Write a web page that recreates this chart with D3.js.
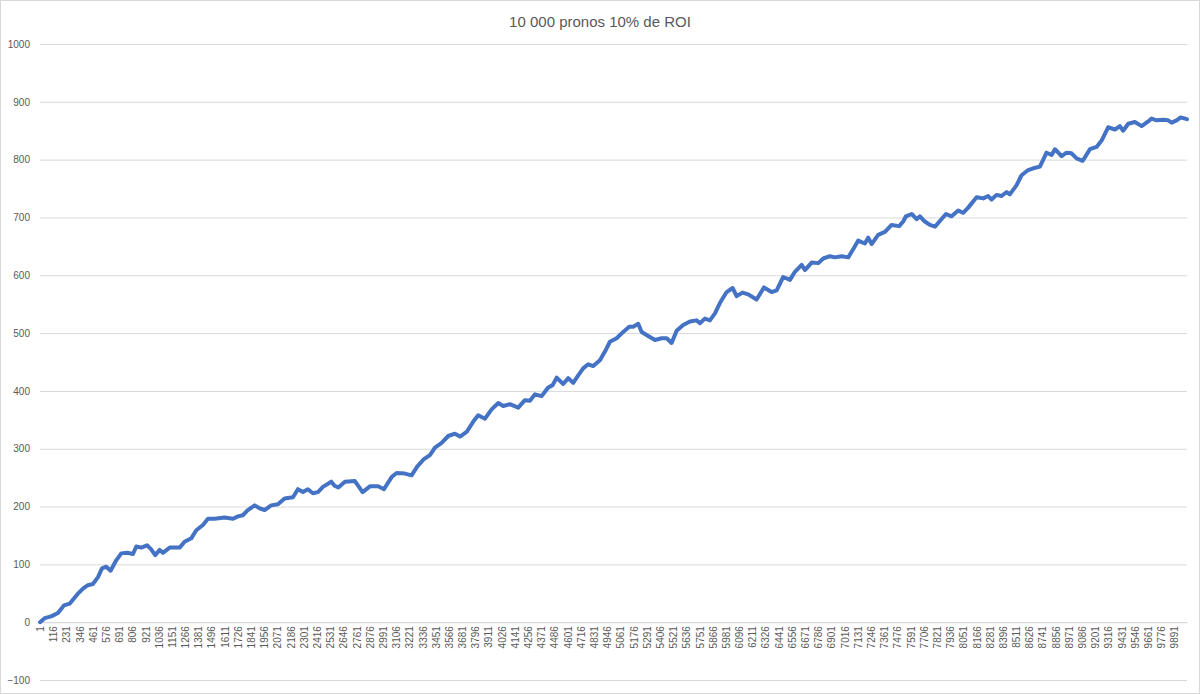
<!DOCTYPE html>
<html>
<head>
<meta charset="utf-8">
<script src="https://cdn.jsdelivr.net/npm/d3@7"></script>
<style>
  html, body { margin: 0; padding: 0; background: #fff; }
  svg { display: block; }
</style>
</head>
<body>
<svg id="chart" width="1200" height="694"></svg>
<script>
// ---- data ----
const chartTitle = "10 000 pronos 10% de ROI";
const categoryCount = 10000;
const yTicks = [-100, 0, 100, 200, 300, 400, 500, 600, 700, 800, 900, 1000];
const xTickStep = 115;

const pronoIndex = [
  1, 41, 98, 157, 209, 259, 325, 375, 418, 462, 506, 541, 578, 616, 665, 709, 761, 811, 840, 883,
  935, 970, 1005, 1044, 1072, 1131, 1218, 1261, 1319, 1363, 1421, 1465, 1523, 1610, 1683, 1726, 1770, 1807, 1872, 1915,
  1959, 2016, 2075, 2133, 2206, 2249, 2293, 2336, 2380, 2424, 2467, 2540, 2569, 2601, 2659, 2746, 2813, 2877, 2949, 2999,
  3066, 3110, 3182, 3240, 3289, 3342, 3400, 3444, 3502, 3560, 3618, 3662, 3720, 3778, 3821, 3880, 3938, 3996, 4039, 4097,
  4170, 4228, 4272, 4315, 4374, 4431, 4470, 4505, 4562, 4606, 4649, 4693, 4736, 4780, 4824, 4882, 4926, 4969, 5028, 5085,
  5138, 5172, 5216, 5246, 5303, 5362, 5420, 5464, 5507, 5551, 5608, 5667, 5725, 5754, 5797, 5841, 5885, 5928, 5987, 6039,
  6074, 6126, 6175, 6248, 6312, 6379, 6423, 6480, 6539, 6582, 6641, 6669, 6728, 6786, 6829, 6887, 6931, 6989, 7047, 7090,
  7134, 7192, 7221, 7251, 7308, 7367, 7425, 7491, 7526, 7550, 7600, 7643, 7672, 7715, 7759, 7803, 7846, 7899, 7948, 8006,
  8049, 8093, 8166, 8224, 8267, 8297, 8340, 8384, 8428, 8456, 8515, 8558, 8616, 8660, 8718, 8776, 8820, 8849, 8907, 8951,
  8994, 9038, 9090, 9110, 9154, 9212, 9256, 9313, 9372, 9415, 9444, 9488, 9546, 9605, 9662, 9692, 9735, 9793, 9836, 9866,
  9910, 9945, 10000
];
const cumulProfit = [
  0, 7, 10, 16, 29, 32, 48, 58, 64, 66, 78, 93, 96, 89, 107, 119, 120, 118, 131, 129,
  133, 126, 116, 125, 120, 129, 129, 139, 145, 159, 168, 179, 179, 181, 179, 183, 185, 193, 202, 197,
  194, 202, 204, 214, 216, 230, 225, 230, 223, 225, 234, 243, 236, 233, 243, 244, 225, 235, 235, 230,
  251, 258, 257, 254, 269, 281, 289, 302, 310, 322, 326, 321, 329, 347, 358, 352, 368, 379, 374, 377,
  371, 384, 383, 394, 391, 406, 410, 423, 412, 422, 414, 427, 439, 446, 443, 453, 468, 485, 491, 502,
  511, 511, 516, 502, 495, 488, 491, 491, 483, 504, 514, 520, 522, 517, 525, 522, 534, 552, 571, 578,
  564, 570, 567, 558, 579, 571, 574, 597, 592, 606, 618, 609, 622, 621, 629, 633, 631, 633, 631, 645,
  660, 655, 665, 654, 670, 675, 687, 685, 693, 702, 706, 697, 702, 693, 687, 684, 694, 706, 702, 712,
  708, 717, 735, 733, 737, 731, 739, 737, 744, 740, 756, 773, 782, 785, 788, 812, 808, 818, 806, 812,
  811, 802, 798, 804, 818, 822, 833, 856, 852, 858, 850, 862, 865, 858, 866, 871, 868, 869, 868, 864,
  868, 873, 870
];

// ---- chart ----
const W = 1200, H = 694;
const svg = d3.select("#chart");
const textColor = "#595959";
const gridColor = "#d9d9d9";
const fontFamily = "'Liberation Sans', Arial, sans-serif";

svg.append("rect")
  .attr("x", 0.5).attr("y", 0.5)
  .attr("width", W - 1).attr("height", H - 1)
  .attr("fill", "#fff").attr("stroke", gridColor);

const categories = d3.range(1, categoryCount + 1);
const x = d3.scaleBand().domain(categories).range([40, 1187]).paddingInner(0).paddingOuter(0);
const y = d3.scaleLinear().domain([-100, 1000]).range([680, 44]);
const cx = i => x(i) + x.bandwidth() / 2;

// gridlines + y labels
const yAxis = d3.axisLeft(y).tickValues(yTicks).tickSize(-(1187 - 40)).tickPadding(10).tickFormat(d3.format("d"));
const gy = svg.append("g").attr("transform", "translate(40,0)").call(yAxis);
gy.select(".domain").remove();
gy.selectAll(".tick line").attr("stroke", gridColor).attr("stroke-width", 1);
gy.selectAll(".tick text")
  .attr("fill", textColor)
  .style("font-family", fontFamily)
  .style("font-size", "10px");

// category axis at y = 0
const xLabels = categories.filter(i => (i - 1) % xTickStep === 0);
const xAxis = d3.axisBottom(x).tickValues(xLabels).tickSize(0).tickPadding(0);
const gx = svg.append("g").attr("transform", `translate(0,${y(0)})`).call(xAxis);
gx.select(".domain").attr("stroke", gridColor).attr("stroke-width", 1);
gx.selectAll(".tick line").remove();
gx.selectAll(".tick text")
  .attr("fill", textColor)
  .style("font-family", fontFamily)
  .style("font-size", "10px")
  .attr("text-anchor", "end")
  .attr("dy", "0.35em")
  .attr("transform", "translate(0,4) rotate(-90)")
  .attr("x", 0).attr("y", 0);

// line
const series = pronoIndex.map((p, k) => ({ p, v: cumulProfit[k] }));
const line = d3.line().x(d => cx(d.p)).y(d => y(d.v));
svg.append("path")
  .datum(series)
  .attr("fill", "none")
  .attr("stroke", "#4472C4")
  .attr("stroke-width", 4)
  .attr("stroke-linejoin", "round")
  .attr("stroke-linecap", "round")
  .attr("d", line);

// title
svg.append("text")
  .attr("x", 600).attr("y", 27)
  .attr("text-anchor", "middle")
  .attr("fill", textColor)
  .style("font-family", fontFamily)
  .style("font-size", "15px")
  .text(chartTitle);
</script>
</body>
</html>
